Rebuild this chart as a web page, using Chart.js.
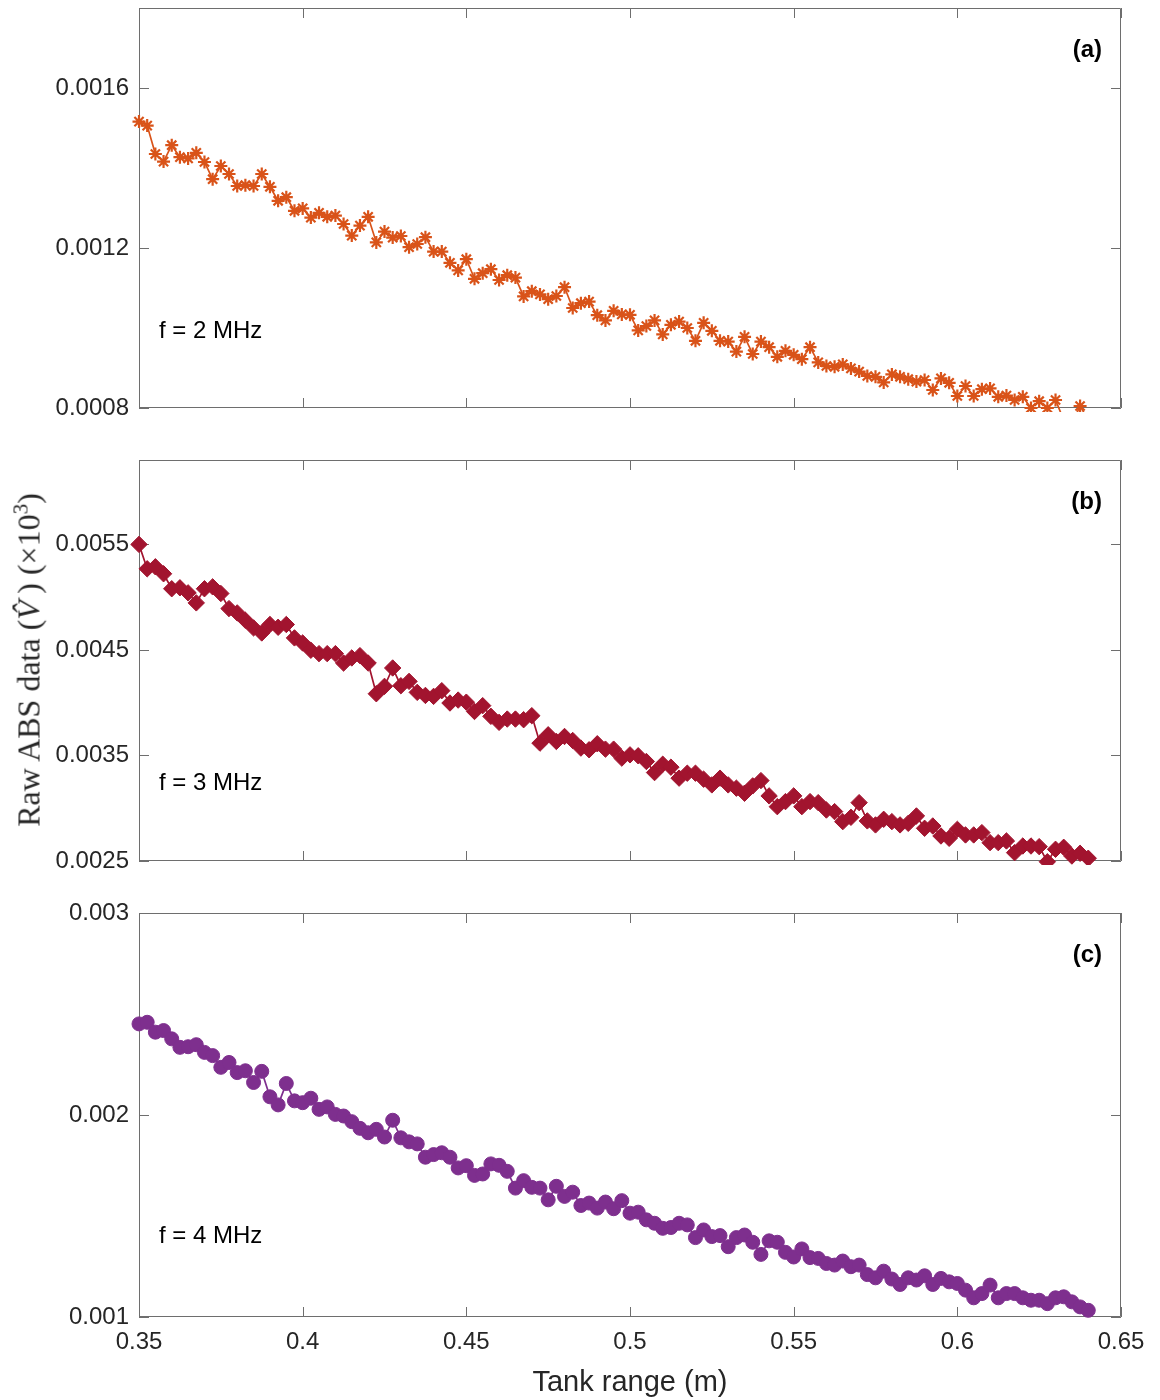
<!DOCTYPE html>
<html>
<head>
<meta charset="utf-8">
<script src="https://cdn.jsdelivr.net/npm/chart.js@4/dist/chart.umd.min.js"></script>
<style>
  body { margin: 0; background: #fff; }
  #fig { position: relative; width: 1160px; height: 1400px; overflow: hidden; }
  .panel { position: absolute; left: 0; width: 1160px; }
  .panel canvas { display: block; }
  #ylabel {
    position: absolute; left: 29px; top: 660px;
    transform: translate(-50%, -50%) rotate(-90deg);
    font-family: 'Liberation Serif', 'Times New Roman', serif;
    font-size: 32px; color: #262626; white-space: nowrap;
  }
  #ylabel sup { font-size: 21px; vertical-align: 12px; line-height: 0; }
</style>
</head>
<body>
<div id="fig">
  <div class="panel" style="top:-24px"><canvas id="panelA" width="1160" height="464"></canvas></div>
  <div class="panel" style="top:428px"><canvas id="panelB" width="1160" height="465"></canvas></div>
  <div class="panel" style="top:881px"><canvas id="panelC" width="1160" height="519"></canvas></div>
  <div id="ylabel">Raw ABS data (<i>V&#770;</i>&thinsp;) (&times;10<sup>3</sup>)</div>
</div>
<script>
// tank range positions (m), shared by all three frequencies
const tankRange = [
  0.35, 0.3525, 0.355, 0.3575, 0.36, 0.3625, 0.365, 0.3675, 0.37, 0.3725,
  0.375, 0.3775, 0.38, 0.3825, 0.385, 0.3875, 0.39, 0.3925, 0.395, 0.3975,
  0.40, 0.4025, 0.405, 0.4075, 0.41, 0.4125, 0.415, 0.4175, 0.42, 0.4225,
  0.425, 0.4275, 0.43, 0.4325, 0.435, 0.4375, 0.44, 0.4425, 0.445, 0.4475,
  0.45, 0.4525, 0.455, 0.4575, 0.46, 0.4625, 0.465, 0.4675, 0.47, 0.4725,
  0.475, 0.4775, 0.48, 0.4825, 0.485, 0.4875, 0.49, 0.4925, 0.495, 0.4975,
  0.50, 0.5025, 0.505, 0.5075, 0.51, 0.5125, 0.515, 0.5175, 0.52, 0.5225,
  0.525, 0.5275, 0.53, 0.5325, 0.535, 0.5375, 0.54, 0.5425, 0.545, 0.5475,
  0.55, 0.5525, 0.555, 0.5575, 0.56, 0.5625, 0.565, 0.5675, 0.57, 0.5725,
  0.575, 0.5775, 0.58, 0.5825, 0.585, 0.5875, 0.59, 0.5925, 0.595, 0.5975,
  0.60, 0.6025, 0.605, 0.6075, 0.61, 0.6125, 0.615, 0.6175, 0.62, 0.6225,
  0.625, 0.6275, 0.63, 0.6325, 0.635, 0.6375, 0.64
]

// raw ABS voltage at 2 MHz
const abs2MHz = [
  0.001516, 0.001506, 0.001435, 0.001416, 0.001457, 0.001427, 0.001424, 0.001438, 0.001415, 0.001372,
  0.001405, 0.001385, 0.001355, 0.001357, 0.001355, 0.001385, 0.001353, 0.001318, 0.001327, 0.001293,
  0.001299, 0.001276, 0.001288, 0.001278, 0.001281, 0.00126, 0.001231, 0.001256, 0.001278, 0.001214,
  0.001241, 0.001226, 0.00123, 0.001202, 0.00121, 0.001227, 0.001191, 0.001191, 0.001163, 0.001144,
  0.001172, 0.001123, 0.001137, 0.001147, 0.00112, 0.001132, 0.001126, 0.001079, 0.001092, 0.001084,
  0.001072, 0.00108, 0.001102, 0.00105, 0.001062, 0.001066, 0.001032, 0.001019, 0.001043, 0.001034,
  0.001033, 0.000994, 0.001005, 0.001019, 0.000984, 0.001008, 0.001016, 0.001, 0.000968, 0.001013,
  0.000993, 0.000968, 0.000966, 0.000941, 0.000978, 0.000935, 0.000966, 0.000952, 0.000928, 0.000943,
  0.000933, 0.000922, 0.000952, 0.000914, 0.000905, 0.000903, 0.000909, 0.000899, 0.000891, 0.00088,
  0.000878, 0.000864, 0.000884, 0.000878, 0.000872, 0.000866, 0.00087, 0.000845, 0.000874, 0.000863,
  0.00083, 0.000855, 0.00083, 0.000847, 0.000849, 0.000828, 0.000831, 0.00082, 0.000828, 0.0008,
  0.000817, 0.0008, 0.00082, 0.00077, 0.00076, 0.000805, 0.00077
]

// raw ABS voltage at 3 MHz
const abs3MHz = [
  0.0055, 0.005269, 0.005288, 0.005222, 0.00508, 0.005089, 0.005041, 0.004946, 0.00508, 0.005098,
  0.005035, 0.004892, 0.004851, 0.004781, 0.004709, 0.004661, 0.004741, 0.004715, 0.004741, 0.004614,
  0.004566, 0.004497, 0.004465, 0.004465, 0.004465, 0.004376, 0.004424, 0.004446, 0.004376, 0.004085,
  0.004155, 0.004329, 0.004161, 0.004202, 0.004098, 0.004069, 0.00406, 0.004114, 0.003997, 0.004025,
  0.004005, 0.003917, 0.003972, 0.003871, 0.003814, 0.003845, 0.003845, 0.003839, 0.003877, 0.003617,
  0.003696, 0.003633, 0.00368, 0.003642, 0.00357, 0.003554, 0.003611, 0.00356, 0.00356, 0.003475,
  0.003506, 0.003497, 0.003443, 0.003338, 0.003417, 0.003389, 0.003285, 0.003332, 0.003332, 0.003275,
  0.003221, 0.003285, 0.003221, 0.00319, 0.003142, 0.003212, 0.003262, 0.003117, 0.003015, 0.003063,
  0.003117, 0.003015, 0.003063, 0.003053, 0.002983, 0.002968, 0.002873, 0.002914, 0.003053, 0.00288,
  0.002842, 0.002895, 0.002873, 0.002842, 0.002857, 0.002927, 0.00281, 0.002832, 0.002737, 0.002715,
  0.0028, 0.002747, 0.002747, 0.002769, 0.002674, 0.002674, 0.00269, 0.002579, 0.002642, 0.002642,
  0.002636, 0.002493, 0.002611, 0.00263, 0.002547, 0.002573, 0.002526
]

// raw ABS voltage at 4 MHz
const abs4MHz = [
  0.002451, 0.002459, 0.00241, 0.002418, 0.002377, 0.002335, 0.002338, 0.002348, 0.00231, 0.002294,
  0.002236, 0.00226, 0.00221, 0.002219, 0.002161, 0.002216, 0.00209, 0.00205, 0.002156, 0.00207,
  0.002061, 0.002083, 0.002028, 0.00204, 0.002003, 0.001995, 0.001967, 0.001934, 0.001912, 0.001929,
  0.001891, 0.001974, 0.001887, 0.001867, 0.001857, 0.001791, 0.001804, 0.001813, 0.001791, 0.001738,
  0.001749, 0.001701, 0.001708, 0.001758, 0.001751, 0.001721, 0.001638, 0.001675, 0.001642, 0.001638,
  0.00158, 0.001647, 0.001597, 0.001618, 0.001552, 0.001564, 0.001539, 0.001569, 0.001536, 0.001576,
  0.001514, 0.001519, 0.001481, 0.001464, 0.001439, 0.001443, 0.001464, 0.001456, 0.001393, 0.001431,
  0.001398, 0.001403, 0.001348, 0.001393, 0.001406, 0.00137, 0.00131, 0.001377, 0.00137, 0.00132,
  0.001297, 0.001337, 0.001294, 0.00129, 0.001265, 0.001257, 0.001277, 0.001249, 0.001257, 0.00121,
  0.001194, 0.001227, 0.001188, 0.001161, 0.001194, 0.001183, 0.001204, 0.001161, 0.001191, 0.001174,
  0.001166, 0.001133, 0.001095, 0.001116, 0.001158, 0.001095, 0.001116, 0.001116, 0.001095, 0.001083,
  0.001083, 0.001066, 0.001095, 0.0011, 0.001075, 0.00105, 0.001033
]

const xTicks = [0.35, 0.4, 0.45, 0.5, 0.55, 0.6, 0.65]
const xTickLabels = ['0.35', '0.4', '0.45', '0.5', '0.55', '0.6', '0.65']

const yTicksA = [0.0008, 0.0012, 0.0016]
const yTickLabelsA = ['0.0008', '0.0012', '0.0016']
const yTicksB = [0.0025, 0.0035, 0.0045, 0.0055]
const yTickLabelsB = ['0.0025', '0.0035', '0.0045', '0.0055']
const yTicksC = [0.001, 0.002, 0.003]
const yTickLabelsC = ['0.001', '0.002', '0.003']

const sansFont = "'Liberation Sans', Arial, Helvetica, sans-serif"
const textColor = '#262626'
const axisColor = '#6e6e6e'

// axes box with inward ticks on all four sides, plus the panel annotations
const boxPlugin = {
  id: 'matlabBox',
  beforeDatasetsDraw(chart, args, opts) {
    const ctx = chart.ctx
    const a = chart.chartArea
    const xs = chart.scales.x
    const ys = chart.scales.y
    const tl = 10
    ctx.save()
    ctx.strokeStyle = axisColor
    ctx.lineWidth = 1
    ctx.beginPath()
    ctx.rect(a.left + 0.5, a.top + 0.5, a.right - a.left - 1, a.bottom - a.top - 1)
    for (const v of opts.xTicks) {
      const px = Math.round(xs.getPixelForValue(v)) + 0.5
      ctx.moveTo(px, a.bottom); ctx.lineTo(px, a.bottom - tl)
      ctx.moveTo(px, a.top); ctx.lineTo(px, a.top + tl)
    }
    for (const v of opts.yTicks) {
      const py = Math.round(ys.getPixelForValue(v)) + 0.5
      ctx.moveTo(a.left, py); ctx.lineTo(a.left + tl, py)
      ctx.moveTo(a.right, py); ctx.lineTo(a.right - tl, py)
    }
    ctx.stroke()
    ctx.restore()
  },
  afterDatasetsDraw(chart, args, opts) {
    const ctx = chart.ctx
    const a = chart.chartArea
    ctx.save()
    ctx.fillStyle = '#000'
    ctx.textBaseline = 'middle'
    ctx.font = '24px ' + sansFont
    ctx.textAlign = 'left'
    ctx.fillText(opts.note, a.left + 20, a.top + 323)
    ctx.font = 'bold 24px ' + sansFont
    ctx.textAlign = 'right'
    ctx.fillText(opts.tag, a.right - 19, a.top + 42)
    ctx.restore()
  }
}

function makePanel(canvasId, values, color, marker, radius, yMin, yMax, yTicks, yTickLabels, note, tag, showX, padding) {
  const points = tankRange.map((x, i) => ({x: x, y: values[i]}))
  const isStar = marker === 'star'
  return new Chart(document.getElementById(canvasId), {
    type: 'line',
    data: {
      datasets: [{
        data: points,
        borderColor: color,
        backgroundColor: color,
        borderWidth: 1.7,
        pointStyle: marker,
        pointRadius: radius,
        pointBorderWidth: isStar ? 2.2 : 1,
        pointBackgroundColor: color,
        pointBorderColor: color,
        tension: 0,
        clip: {left: 9, right: 9, top: 9, bottom: 4}
      }]
    },
    options: {
      responsive: false,
      animation: false,
      events: [],
      layout: {padding: padding},
      plugins: {
        legend: {display: false},
        tooltip: {enabled: false},
        matlabBox: {xTicks: xTicks, yTicks: yTicks, note: note, tag: tag}
      },
      scales: {
        x: {
          type: 'linear',
          min: 0.35,
          max: 0.65,
          display: showX,
          afterBuildTicks: axis => { axis.ticks = xTicks.map(v => ({value: v})) },
          afterFit: axis => { if (showX) axis.height = 83 },
          grid: {display: false, drawTicks: false, tickLength: 0},
          border: {display: false},
          ticks: {
            autoSkip: false,
            maxRotation: 0,
            padding: 11,
            color: textColor,
            font: {family: sansFont, size: 24},
            callback: (v, i) => xTickLabels[i]
          },
          title: {
            display: true,
            text: 'Tank range (m)',
            color: textColor,
            font: {family: sansFont, size: 29},
            padding: {top: 0, bottom: 0}
          }
        },
        y: {
          type: 'linear',
          min: yMin,
          max: yMax,
          afterBuildTicks: axis => { axis.ticks = yTicks.map(v => ({value: v})) },
          afterFit: axis => { axis.width = 139 },
          grid: {display: false, drawTicks: false, tickLength: 0},
          border: {display: false},
          ticks: {
            autoSkip: false,
            padding: 10,
            color: textColor,
            font: {family: sansFont, size: 24},
            callback: (v, i) => yTickLabels[i]
          }
        }
      }
    },
    plugins: [boxPlugin]
  })
}

makePanel('panelA', abs2MHz, '#D95319', 'star', 6.5, 0.0008, 0.0018, yTicksA, yTickLabelsA,
  'f = 2 MHz', '(a)', false, {left: 0, right: 39, top: 32, bottom: 32})
makePanel('panelB', abs3MHz, '#A2142F', 'rectRot', 8.2, 0.0025, 0.0063, yTicksB, yTickLabelsB,
  'f = 3 MHz', '(b)', false, {left: 0, right: 39, top: 32, bottom: 32})
makePanel('panelC', abs4MHz, '#7E2F8E', 'circle', 7, 0.001, 0.003, yTicksC, yTickLabelsC,
  'f = 4 MHz', '(c)', true, {left: 0, right: 39, top: 32, bottom: 0})
</script>
</body>
</html>
